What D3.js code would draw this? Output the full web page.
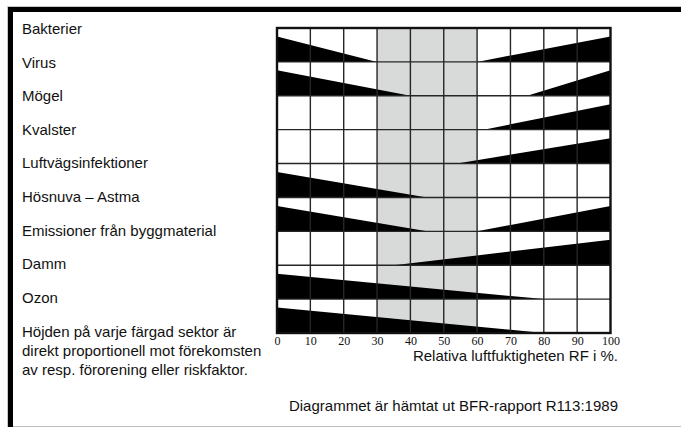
<!DOCTYPE html>
<html>
<head>
<meta charset="utf-8">
<script src="https://cdn.jsdelivr.net/npm/d3@7/dist/d3.min.js"></script>
<style>
  html, body { margin: 0; padding: 0; background: #fff; }
  svg { display: block; }
</style>
</head>
<body>
<script>
// ---- Data ----
const categories = [
  "Bakterier", "Virus", "Mögel", "Kvalster", "Luftvägsinfektioner",
  "Hösnuva – Astma", "Emissioner från byggmaterial", "Damm", "Ozon"
];
// Profile of each row: [RF %, relative occurrence 0..1]
const bakterier   = [[0, 1], [30, 0], [60, 0], [100, 1]];
const virus       = [[0, 1], [40, 0], [75, 0], [100, 1]];
const mogel       = [[0, 0], [62, 0], [100, 1]];
const kvalster    = [[0, 0], [54, 0], [100, 1]];
const luftvagar   = [[0, 1], [45, 0], [100, 0]];
const hosnuva     = [[0, 1], [45, 0], [60, 0], [100, 1]];
const emissioner  = [[0, 0], [35, 0], [100, 1]];
const damm        = [[0, 1], [80, 0], [100, 0]];
const ozon        = [[0, 1], [80, 0], [100, 0]];
const profiles = [bakterier, virus, mogel, kvalster, luftvagar, hosnuva, emissioner, damm, ozon];

const rfTicks = [0, 10, 20, 30, 40, 50, 60, 70, 80, 90, 100];
const optimalZone = [30, 60];
const noteLines = [
  "Höjden på varje färgad sektor är",
  "direkt proportionell mot förekomsten",
  "av resp. förorening eller riskfaktor."
];
const axisTitle = "Relativa luftfuktigheten RF i %.";
const sourceText = "Diagrammet är hämtat ut BFR-rapport R113:1989";

// ---- Layout ----
const W = 681, H = 427;
const svg = d3.select("body").append("svg").attr("width", W).attr("height", H);
svg.append("rect").attr("width", W).attr("height", H).attr("fill", "#fff");

// page frame
svg.append("line").attr("x1", 8).attr("x2", W).attr("y1", 6.5).attr("y2", 6.5).attr("stroke", "#c8c8c8");
svg.append("line").attr("x1", 7.5).attr("x2", 7.5).attr("y1", 6).attr("y2", H).attr("stroke", "#c8c8c8");
svg.append("line").attr("x1", 8).attr("x2", W).attr("y1", 426.5).attr("y2", 426.5).attr("stroke", "#bdbdbd");
svg.append("rect").attr("x", 8).attr("y", 7).attr("width", W - 8).attr("height", 5).attr("fill", "#000");
svg.append("rect").attr("x", 8).attr("y", 7).attr("width", 5).attr("height", H - 7).attr("fill", "#000");

const x = d3.scaleLinear().domain([0, 100]).range([277, 610.5]);
const y = d3.scaleBand().domain(categories).range([28, 333]).paddingInner(0).paddingOuter(0);
const h = d3.scaleLinear().domain([0, 1]).range([0, y.bandwidth() * 0.75]);

const plot = svg.append("g");

// optimal zone
plot.append("rect")
  .attr("x", x(optimalZone[0])).attr("y", y.range()[0])
  .attr("width", x(optimalZone[1]) - x(optimalZone[0]))
  .attr("height", y.range()[1] - y.range()[0])
  .attr("fill", "#d8d9d9");

// wedges
categories.forEach((c, i) => {
  const bottom = y(c) + y.bandwidth();
  const area = d3.area()
    .x(d => x(d[0]))
    .y0(bottom)
    .y1(d => bottom - h(d[1]))
    .curve(d3.curveLinear);
  plot.append("path").attr("d", area(profiles[i])).attr("fill", "#000");
});

// grid
const grid = plot.append("g").attr("stroke", "#262626").attr("stroke-width", 1.4);
rfTicks.slice(1, -1).forEach(t => {
  grid.append("line").attr("x1", x(t)).attr("x2", x(t))
    .attr("y1", y.range()[0]).attr("y2", y.range()[1]);
});
categories.slice(1).forEach(c => {
  grid.append("line").attr("x1", x(0)).attr("x2", x(100))
    .attr("y1", y(c)).attr("y2", y(c));
});
plot.append("rect")
  .attr("x", x(0)).attr("y", y.range()[0])
  .attr("width", x(100) - x(0)).attr("height", y.range()[1] - y.range()[0])
  .attr("fill", "none").attr("stroke", "#111").attr("stroke-width", 2.4);

// x axis
const axis = svg.append("g").attr("transform", `translate(0,${y.range()[1]})`)
  .call(d3.axisBottom(x).tickValues(rfTicks).tickSize(0).tickPadding(3));
axis.select(".domain").remove();
axis.selectAll("text")
  .attr("font-family", "'Liberation Serif', 'Times New Roman', serif")
  .attr("font-size", 12).attr("fill", "#111");

svg.append("text").attr("x", 618).attr("y", 361).attr("text-anchor", "end")
  .attr("font-family", "'Liberation Sans', Arial, sans-serif").attr("font-size", 15)
  .attr("fill", "#111").text(axisTitle);

// category labels
const ly = d3.scalePoint().domain(categories).range([34, 302.7]);
svg.append("g").selectAll("text").data(categories).join("text")
  .attr("x", 22).attr("y", d => ly(d))
  .attr("font-family", "'Liberation Sans', Arial, sans-serif").attr("font-size", 15)
  .attr("fill", "#111").text(d => d);

// note
svg.append("g").selectAll("text").data(noteLines).join("text")
  .attr("x", 22).attr("y", (d, i) => 336.7 + i * 19.2)
  .attr("font-family", "'Liberation Sans', Arial, sans-serif").attr("font-size", 15)
  .attr("fill", "#111").text(d => d);

// source
svg.append("text").attr("x", 618).attr("y", 411).attr("text-anchor", "end")
  .attr("font-family", "'Liberation Sans', Arial, sans-serif").attr("font-size", 15)
  .attr("fill", "#111").text(sourceText);
</script>
</body>
</html>
